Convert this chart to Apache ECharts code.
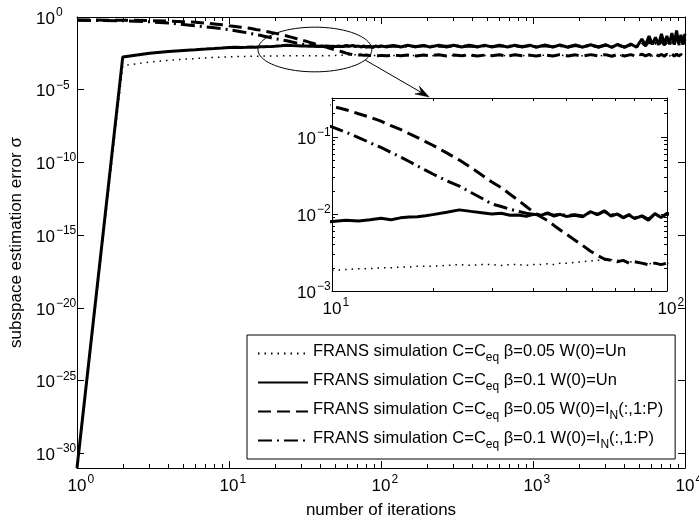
<!DOCTYPE html>
<html>
<head>
<meta charset="utf-8">
<script src="https://cdn.jsdelivr.net/npm/echarts@6/dist/echarts.min.js"></script>
<style>
html, body { margin: 0; padding: 0; background: #fff; }
#chart { width: 699px; height: 524px; }
</style>
</head>
<body>
<div id="chart"></div>
<script>
// iteration index (x) and the four error curves
const iterations = [
  1, 2, 3, 4, 5, 6, 7, 8, 9, 10,
  11, 12, 13, 14, 15, 16, 17, 18, 19, 20,
  22, 24, 26, 28, 30, 32, 34, 36, 38, 40,
  42, 44, 46, 48, 50, 53, 56, 59, 62, 65,
  68, 71, 74, 77, 80, 84, 88, 92, 96, 100,
  110, 120, 135, 150, 170, 190, 210, 240, 270, 300,
  340, 380, 430, 480, 540, 600, 680, 760, 850, 950,
  1050, 1200, 1350, 1500, 1700, 1900, 2100, 2400, 2700, 3000,
  3300, 3600, 4000, 4400, 4800, 5200, 5500, 5800, 6100, 6400,
  6700, 7000, 7300, 7600, 7900, 8200, 8500, 8800, 9100, 9400,
  9700, 10000
]

// beta=0.05, W(0)=Un  (dotted)
const errB005Un = [
  1e-31, 4.5e-4, 8e-4, 1.05e-3, 1.25e-3, 1.4e-3, 1.55e-3, 1.65e-3, 1.75e-3, 1.85e-3,
  1.9e-3, 1.95e-3, 1.95e-3, 2.0e-3, 2.0e-3, 2.05e-3, 2.05e-3, 2.1e-3, 2.1e-3, 2.1e-3,
  2.15e-3, 2.2e-3, 2.15e-3, 2.2e-3, 2.2e-3, 2.15e-3, 2.2e-3, 2.2e-3, 2.15e-3, 2.2e-3,
  2.2e-3, 2.25e-3, 2.2e-3, 2.3e-3, 2.3e-3, 2.35e-3, 2.4e-3, 2.45e-3, 2.5e-3, 2.5e-3,
  2.55e-3, 2.5e-3, 2.45e-3, 2.4e-3, 2.35e-3, 2.3e-3, 2.25e-3, 2.3e-3, 2.2e-3, 2.3e-3,
  2.2e-3, 2.3e-3, 2.2e-3, 2.35e-3, 2.2e-3, 2.3e-3, 2.15e-3, 2.35e-3, 2.2e-3, 2.3e-3,
  2.2e-3, 2.35e-3, 2.15e-3, 2.3e-3, 2.2e-3, 2.35e-3, 2.15e-3, 2.35e-3, 2.2e-3, 2.3e-3,
  2.15e-3, 2.4e-3, 2.15e-3, 2.4e-3, 2.1e-3, 2.4e-3, 2.15e-3, 2.45e-3, 2.1e-3, 2.45e-3,
  2.1e-3, 2.5e-3, 2.1e-3, 2.5e-3, 2.05e-3, 2.55e-3, 2.1e-3, 2.5e-3, 2.05e-3, 2.55e-3,
  2.1e-3, 2.5e-3, 2.05e-3, 2.6e-3, 2.1e-3, 2.55e-3, 2.05e-3, 2.6e-3, 2.1e-3, 2.55e-3,
  2.05e-3, 2.6e-3
]

// beta=0.1, W(0)=Un  (solid)
const errB01Un = [
  1e-31, 1.8e-3, 3.2e-3, 4.2e-3, 5.0e-3, 5.6e-3, 6.2e-3, 6.8e-3, 7.4e-3, 8.0e-3,
  8.3e-3, 8.1e-3, 8.4e-3, 8.8e-3, 8.4e-3, 8.9e-3, 9.1e-3, 9.2e-3, 9.5e-3, 9.8e-3,
  1.05e-2, 1.13e-2, 1.08e-2, 1.04e-2, 1.0e-2, 1.02e-2, 9.6e-3, 9.7e-3, 9.3e-3, 9.9e-3,
  9.6e-3, 1.03e-2, 9.4e-3, 9.9e-3, 9.3e-3, 9.6e-3, 9.2e-3, 1.07e-2, 9.8e-3, 1.1e-2,
  9.4e-3, 1.0e-2, 8.9e-3, 9.7e-3, 8.7e-3, 9.4e-3, 8.3e-3, 1.01e-2, 9.0e-3, 1.02e-2,
  8.8e-3, 1.12e-2, 8.7e-3, 1.13e-2, 8.8e-3, 1.12e-2, 8.6e-3, 1.14e-2, 8.7e-3, 1.13e-2,
  8.6e-3, 1.15e-2, 8.7e-3, 1.14e-2, 8.5e-3, 1.16e-2, 8.6e-3, 1.15e-2, 8.5e-3, 1.17e-2,
  8.4e-3, 1.18e-2, 8.5e-3, 1.2e-2, 8.3e-3, 1.21e-2, 8.4e-3, 1.23e-2, 8.2e-3, 1.25e-2,
  8.2e-3, 1.3e-2, 8.1e-3, 1.4e-2, 8.3e-3, 3.0e-2, 1.2e-2, 5.0e-2, 1.3e-2, 4.0e-2,
  1.2e-2, 7.0e-2, 1.4e-2, 5.0e-2, 1.3e-2, 8.0e-2, 1.5e-2, 1.2e-1, 1.4e-2, 6.0e-2,
  1.6e-2, 7.0e-2
]

// beta=0.05, W(0)=I_N(:,1:P)  (dashed)
const errB005In = [
  0.62, 0.6, 0.57, 0.53, 0.48, 0.43, 0.38, 0.33, 0.29, 0.25,
  0.225, 0.2, 0.18, 0.16, 0.14, 0.125, 0.11, 0.098, 0.087, 0.078,
  0.062, 0.05, 0.04, 0.032, 0.026, 0.022, 0.018, 0.015, 0.0125, 0.0105,
  0.0092, 0.0082, 0.0071, 0.0062, 0.0055, 0.0046, 0.0039, 0.0033, 0.0029, 0.0026,
  0.0025, 0.0024, 0.0025, 0.0023, 0.0024, 0.0023, 0.0022, 0.0023, 0.0022, 0.0023,
  0.0022, 0.0024, 0.0022, 0.0024, 0.0021, 0.0024, 0.0022, 0.0025, 0.0021, 0.0024,
  0.0022, 0.0025, 0.0021, 0.0024, 0.0022, 0.0025, 0.0021, 0.0025, 0.0022, 0.0024,
  0.0021, 0.0025, 0.0021, 0.0026, 0.0021, 0.0025, 0.002, 0.0026, 0.0021, 0.0026,
  0.002, 0.0027, 0.0021, 0.0026, 0.002, 0.0028, 0.0021, 0.0027, 0.002, 0.0028,
  0.0021, 0.0027, 0.002, 0.0028, 0.0021, 0.0029, 0.002, 0.0028, 0.0021, 0.0027,
  0.002, 0.0028
]

// beta=0.1, W(0)=I_N(:,1:P)  (dash-dot)
const errB01In = [
  0.6, 0.55, 0.47, 0.38, 0.31, 0.25, 0.21, 0.18, 0.155, 0.135,
  0.115, 0.098, 0.084, 0.073, 0.063, 0.055, 0.048, 0.042, 0.037, 0.033,
  0.027, 0.023, 0.019, 0.016, 0.0135, 0.0125, 0.0115, 0.0108, 0.0102, 0.0099,
  0.0098, 0.0101, 0.0096, 0.01, 0.0095, 0.0098, 0.0094, 0.0105, 0.0099, 0.0108,
  0.0096, 0.0101, 0.009, 0.0098, 0.0089, 0.0095, 0.0085, 0.01, 0.0091, 0.01,
  0.0097, 0.0101, 0.0093, 0.0102, 0.0095, 0.0104, 0.0094, 0.01, 0.0096, 0.0105,
  0.0094, 0.0102, 0.0095, 0.0101, 0.0093, 0.0104, 0.0095, 0.0102, 0.0094, 0.0105,
  0.0092, 0.0107, 0.0091, 0.0109, 0.009, 0.011, 0.0091, 0.0112, 0.009, 0.0114,
  0.0089, 0.0116, 0.0088, 0.0122, 0.0092, 0.018, 0.0105, 0.022, 0.011, 0.016,
  0.0105, 0.025, 0.012, 0.019, 0.0115, 0.03, 0.013, 0.04, 0.012, 0.026,
  0.013, 0.03
]

const seriesNames = ['b005Un', 'b01Un', 'b005In', 'b01In']
const legendLabels = {
  b005Un: '{z|\u200b}{t|FRANS simulation C=C}{sub|eq}{t| \u03b2=0.05 W(0)=Un}',
  b01Un: '{z|\u200b}{t|FRANS simulation C=C}{sub|eq}{t| \u03b2=0.1 W(0)=Un}',
  b005In: '{z|\u200b}{t|FRANS simulation C=C}{sub|eq}{t| \u03b2=0.05 W(0)=I}{sub|N}{t|(:,1:P)}',
  b01In: '{z|\u200b}{t|FRANS simulation C=C}{sub|eq}{t| \u03b2=0.1 W(0)=I}{sub|N}{t|(:,1:P)}',
}

// tick positions
const mainXTicks = [1, 10, 100, 1000, 10000]
const mainXMinor = [2, 3, 4, 5, 6, 7, 8, 9, 20, 30, 40, 50, 60, 70, 80, 90,
  200, 300, 400, 500, 600, 700, 800, 900, 2000, 3000, 4000, 5000, 6000, 7000, 8000, 9000]
const mainYTicks = [1, 1e-5, 1e-10, 1e-15, 1e-20, 1e-25, 1e-30]
const insetXTicks = [10, 100]
const insetXMinor = [20, 30, 40, 50, 60, 70, 80, 90]
const insetYTicks = [1e-3, 1e-2, 1e-1]
const insetYMinor = [2e-3, 3e-3, 4e-3, 5e-3, 6e-3, 7e-3, 8e-3, 9e-3,
  2e-2, 3e-2, 4e-2, 5e-2, 6e-2, 7e-2, 8e-2, 9e-2, 2e-1, 3e-1]

const mainX = [1, 10000]
const mainY = [1e-31, 1]
const insetX = [10, 100]
const insetY = [1e-3, 0.32]

// zoom ellipse (data space of the main plot) and arrow target in the inset
const ellipseX = [15.5, 87]
const ellipseY = [1.7e-4, 0.2]
const arrowTarget = [19.5, 0.32]

const FONT = 'Liberation Sans, Arial, Helvetica, sans-serif'

function supLabel(v, centerBase) {
  const e = Math.round(Math.log10(v))
  const s = e < 0 ? '\u2212' + -e : String(e)
  return (centerBase ? '{h|' + s + '}' : '') + '{b|10}{s|' + s + '}{z|\u200b}'
}

// z is an empty spacer that sets the line box, so b sits low and s sits high
const labelRich = {
  b: { fontSize: 17, fontFamily: FONT, color: '#000', lineHeight: 17, verticalAlign: 'bottom' },
  s: { fontSize: 12, fontFamily: FONT, color: '#000', lineHeight: 12, verticalAlign: 'top', padding: [0, 0, 0, 1] },
  h: { fontSize: 12, fontFamily: FONT, color: 'rgba(0,0,0,0)', lineHeight: 12, verticalAlign: 'top', padding: [0, 1, 0, 0] },
  z: { fontSize: 12, fontFamily: FONT, lineHeight: 21 },
}

function logAxis(o) {
  return {
    type: 'log',
    logBase: 10,
    gridIndex: o.grid,
    position: o.pos,
    min: o.range[0],
    max: o.range[1],
    z: o.z || 0,
    axisLine: { show: o.line !== false, onZero: false, lineStyle: { color: '#000', width: 1 } },
    axisTick: {
      show: true,
      inside: true,
      length: o.tickLen,
      customValues: o.ticks,
      lineStyle: { color: '#000', width: 1 },
    },
    axisLabel: o.labels
      ? {
          show: true,
          customValues: o.ticks,
          margin: o.margin,
          align: o.align,
          formatter: (v) => supLabel(v, o.centerBase),
          rich: labelRich,
        }
      : { show: false },
    splitLine: { show: false },
    minorTick: { show: false },
    name: o.name,
    nameLocation: 'middle',
    nameGap: o.nameGap,
    nameRotate: o.nameRotate,
    nameTextStyle: { fontSize: 17, fontFamily: FONT, color: '#000' },
  }
}

function makeSeries(name, values, lineStyle, xi, yi, z) {
  return {
    name: name,
    type: 'line',
    xAxisIndex: xi,
    yAxisIndex: yi,
    data: iterations.map((x, i) => [x, values[i]]),
    symbol: 'none',
    showSymbol: false,
    clip: true,
    z: z,
    lineStyle: Object.assign({ color: '#000' }, lineStyle),
    itemStyle: { color: '#000' },
  }
}

const styles = [
  { width: 1.5, type: [1.5, 5] },
  { width: 3, type: 'solid' },
  { width: 3, type: [13, 6] },
  { width: 3, type: [14, 5, 2, 5] },
]
const values = [errB005Un, errB01Un, errB005In, errB01In]

const chart = echarts.init(document.getElementById('chart'))

const series = []
seriesNames.forEach((n, i) => series.push(makeSeries(n, values[i], styles[i], 0, 0, 2)))
seriesNames.forEach((n, i) => series.push(makeSeries(n, values[i], styles[i], 4, 2, 6)))

const option = {
  animation: false,
  backgroundColor: '#fff',
  grid: [
    { left: 77, top: 17, width: 608, height: 451, outerBoundsMode: 'none', containLabel: false },
    {
      left: 332, top: 98, width: 335, height: 193,
      show: true, backgroundColor: '#fff', borderWidth: 0, z: 5,
      outerBoundsMode: 'none', containLabel: false,
    },
  ],
  xAxis: [
    logAxis({ grid: 0, pos: 'bottom', range: mainX, ticks: mainXTicks, tickLen: 7, labels: true,
      margin: 6, centerBase: true, name: 'number of iterations', nameGap: 34 }),
    logAxis({ grid: 0, pos: 'bottom', range: mainX, ticks: mainXMinor, tickLen: 4, line: false }),
    logAxis({ grid: 0, pos: 'top', range: mainX, ticks: mainXTicks, tickLen: 7 }),
    logAxis({ grid: 0, pos: 'top', range: mainX, ticks: mainXMinor, tickLen: 4, line: false }),
    logAxis({ grid: 1, pos: 'bottom', range: insetX, ticks: insetXTicks, tickLen: 6, labels: true,
      margin: 6, centerBase: true, z: 7 }),
    logAxis({ grid: 1, pos: 'bottom', range: insetX, ticks: insetXMinor, tickLen: 3, line: false, z: 7 }),
    logAxis({ grid: 1, pos: 'top', range: insetX, ticks: insetXTicks, tickLen: 6, z: 7 }),
    logAxis({ grid: 1, pos: 'top', range: insetX, ticks: insetXMinor, tickLen: 3, line: false, z: 7 }),
  ],
  yAxis: [
    logAxis({ grid: 0, pos: 'left', range: mainY, ticks: mainYTicks, tickLen: 7, labels: true,
      margin: 41, align: 'left', name: 'subspace estimation error \u03c3', nameGap: 51, nameRotate: 90 }),
    logAxis({ grid: 0, pos: 'right', range: mainY, ticks: mainYTicks, tickLen: 7 }),
    logAxis({ grid: 1, pos: 'left', range: insetY, ticks: insetYTicks, tickLen: 6, labels: true,
      margin: 35, align: 'left', z: 7 }),
    logAxis({ grid: 1, pos: 'left', range: insetY, ticks: insetYMinor, tickLen: 3, line: false, z: 7 }),
    logAxis({ grid: 1, pos: 'right', range: insetY, ticks: insetYTicks, tickLen: 6, z: 7 }),
    logAxis({ grid: 1, pos: 'right', range: insetY, ticks: insetYMinor, tickLen: 3, line: false, z: 7 }),
  ],
  legend: {
    orient: 'vertical',
    left: 247,
    top: 335,
    data: seriesNames,
    selectedMode: false,
    itemWidth: 50,
    itemHeight: 14,
    itemGap: 8,
    padding: [8, 12, 8, 10],
    borderColor: '#000',
    borderWidth: 1,
    backgroundColor: '#fff',
    itemStyle: { opacity: 0 },
    formatter: (n) => legendLabels[n],
    textStyle: {
      color: '#000',
      fontFamily: FONT,
      rich: {
        t: { fontSize: 16.5, fontFamily: FONT, color: '#000', lineHeight: 17, verticalAlign: 'top' },
        sub: { fontSize: 12, fontFamily: FONT, color: '#000', lineHeight: 12, verticalAlign: 'bottom' },
        z: { fontSize: 12, fontFamily: FONT, lineHeight: 21 },
      },
    },
  },
  series: series,
}

chart.setOption(option)

// ellipse around the zoomed region + arrow to the inset
const pA = chart.convertToPixel({ xAxisIndex: 0, yAxisIndex: 0 }, [ellipseX[0], ellipseY[1]])
const pB = chart.convertToPixel({ xAxisIndex: 0, yAxisIndex: 0 }, [ellipseX[1], ellipseY[0]])
const cx = (pA[0] + pB[0]) / 2
const cy = (pA[1] + pB[1]) / 2
const rx = Math.abs(pB[0] - pA[0]) / 2
const ry = Math.abs(pB[1] - pA[1]) / 2
const ellipsePts = []
for (let i = 0; i <= 72; i++) {
  const a = (i / 72) * Math.PI * 2
  ellipsePts.push([cx + rx * Math.cos(a), cy + ry * Math.sin(a)])
}
const ang = (28 * Math.PI) / 180
const start = [cx + rx * Math.cos(ang), cy + ry * Math.sin(ang)]
const tipRaw = chart.convertToPixel({ xAxisIndex: 4, yAxisIndex: 2 }, arrowTarget)
const tip = [tipRaw[0], tipRaw[1] - 1]
const dx = tip[0] - start[0]
const dy = tip[1] - start[1]
const len = Math.sqrt(dx * dx + dy * dy)
const ux = dx / len
const uy = dy / len
const nx = -uy
const ny = ux
const head = [
  tip,
  [tip[0] - ux * 14 + nx * 4.5, tip[1] - uy * 14 + ny * 4.5],
  [tip[0] - ux * 9, tip[1] - uy * 9],
  [tip[0] - ux * 14 - nx * 4.5, tip[1] - uy * 14 - ny * 4.5],
]

chart.setOption({
  graphic: [
    { type: 'polyline', z: 20, silent: true, shape: { points: ellipsePts }, style: { stroke: '#000', lineWidth: 1, fill: null } },
    { type: 'line', z: 20, silent: true, shape: { x1: start[0], y1: start[1], x2: tip[0] - ux * 9, y2: tip[1] - uy * 9 }, style: { stroke: '#000', lineWidth: 1 } },
    { type: 'polygon', z: 20, silent: true, shape: { points: head }, style: { fill: '#000', stroke: '#000', lineWidth: 0.5 } },
  ],
})
</script>
</body>
</html>
